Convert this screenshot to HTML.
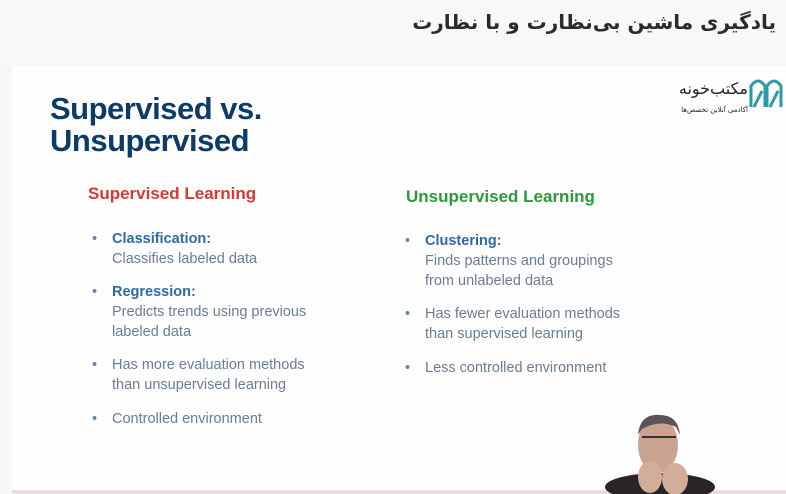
<!DOCTYPE html>
<html><head><meta charset="utf-8"><style>
body{margin:0;width:786px;height:494px;overflow:hidden;background:#f7f7f9;position:relative;font-family:"Liberation Sans",sans-serif}
.abs{position:absolute}
.b{color:#6b7c93;font-size:14.5px;line-height:20px}
.b .h{color:#2e6aa6;font-weight:bold}
.dot{position:absolute;left:-20px;top:0;color:#5a86b8}
</style></head><body>
<div class="abs" style="left:0;top:0;width:786px;height:66px;background:#f8f8fa"></div>
<div class="abs" dir="rtl" style="right:10px;top:10px;font-family:'DejaVu Sans','Noto Sans CJK SC',sans-serif;font-weight:bold;font-size:20px;color:#2b2b2b;letter-spacing:-0.3px">یادگیری ماشین بی‌نظارت و با نظارت</div>
<div class="abs" style="left:12px;top:66px;width:774px;height:428px;background:#fefefe"></div>
<div class="abs" dir="rtl" style="left:660px;top:80px;width:88px;text-align:right;font-family:'DejaVu Sans',sans-serif;font-size:16px;color:#222;line-height:18px">مکتب‌خونه<br><span style="font-size:7px">آکادمی آنلاین تخصص‌ها</span></div>
<svg class="abs" style="left:748px;top:74px" width="36" height="36"><path d="M3 33V12Q10 2 17 12V33M19 33V12Q26 2 33 12V33M6 33L14 17M22 33L30 17" fill="none" stroke="#2a9aa8" stroke-width="3"/></svg>
<div class="abs" style="left:50px;top:93px;font-size:31px;font-weight:bold;color:#0d3b68;line-height:32px;letter-spacing:-0.5px">Supervised vs.<br>Unsupervised</div>
<div class="abs" style="left:88px;top:184px;font-size:17px;font-weight:bold;color:#d63a2f">Supervised Learning</div>
<div class="abs" style="left:406px;top:187px;font-size:17px;font-weight:bold;color:#2b9a3c">Unsupervised Learning</div>
<div class="abs b" style="left:112px;top:229px"><span class="dot">•</span><span class="h">Classification:</span><br>Classifies labeled data</div>
<div class="abs b" style="left:112px;top:282px"><span class="dot">•</span><span class="h">Regression:</span><br>Predicts trends using previous<br>labeled data</div>
<div class="abs b" style="left:112px;top:355px"><span class="dot">•</span>Has more evaluation methods<br>than unsupervised learning</div>
<div class="abs b" style="left:112px;top:409px"><span class="dot">•</span>Controlled environment</div>
<div class="abs b" style="left:425px;top:231px"><span class="dot">•</span><span class="h">Clustering:</span><br>Finds patterns and groupings<br>from unlabeled data</div>
<div class="abs b" style="left:425px;top:304px"><span class="dot">•</span>Has fewer evaluation methods<br>than supervised learning</div>
<div class="abs b" style="left:425px;top:358px"><span class="dot">•</span>Less controlled environment</div>
<div class="abs" style="left:12px;top:490px;width:774px;height:4px;background:#eadde0"></div>
<svg class="abs" style="left:600px;top:405px" width="120" height="89">
<ellipse cx="60" cy="82" rx="55" ry="14" fill="#2a2426"/>
<ellipse cx="58" cy="40" rx="20" ry="28" fill="#c9a390"/>
<path d="M38 30Q40 8 60 10Q78 10 80 30L76 22Q60 14 42 24Z" fill="#5a5554"/>
<path d="M42 32H76" stroke="#333" stroke-width="2"/>
<ellipse cx="50" cy="72" rx="12" ry="16" fill="#d2ad9a"/>
<ellipse cx="75" cy="74" rx="13" ry="16" fill="#d2ad9a"/>
</svg>
</body></html>
